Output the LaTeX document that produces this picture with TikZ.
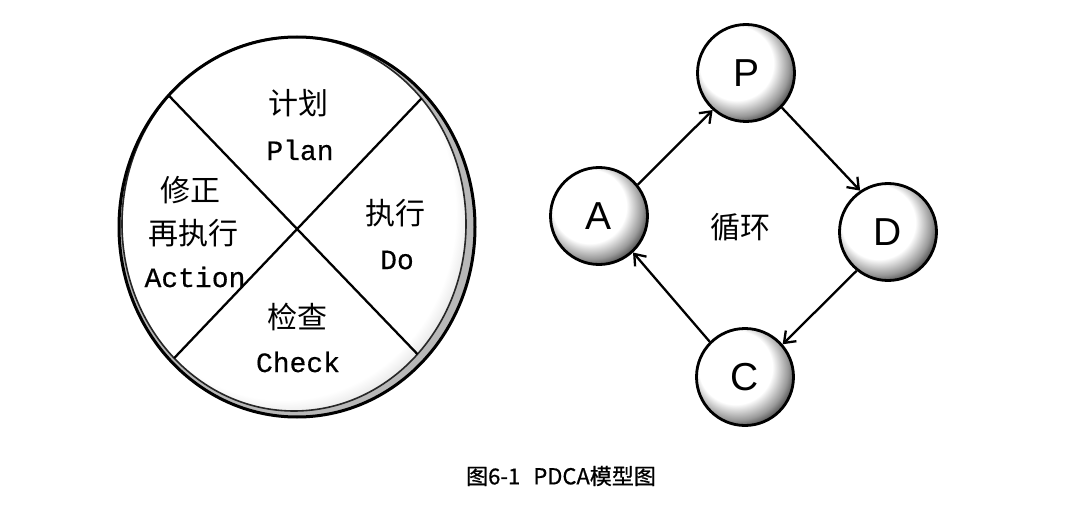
\documentclass[tikz,border=0pt]{standalone}
\usepackage{fontspec}
\setmainfont{Liberation Sans}
\newfontfamily\cjk{Noto Sans CJK SC}
\newfontfamily\capfont[FakeBold=0.6]{Noto Sans CJK SC}
\newfontfamily\monofnt[FakeBold=0.5]{Liberation Mono}
\usetikzlibrary{arrows.meta}

\pgfdeclareradialshading{sphereshade}{\pgfpoint{-8bp}{8bp}}{color(0bp)=(white); color(19bp)=(white); color(26bp)=(black!40); color(31bp)=(black!82); color(50bp)=(black!82)}
\pgfdeclareradialshading{diskshade}{\pgfpoint{-3bp}{3bp}}{color(0bp)=(white); color(25bp)=(white); color(29bp)=(black!18); color(50bp)=(black!25)}

\tikzset{
  ballnode/.style={circle, draw, line width=2.8pt, minimum size=97pt, inner sep=0pt,
    shade, shading=sphereshade, font=\fontsize{39}{40}\selectfont},
  cjkbig/.style={font=\cjk\fontsize{30}{32}\selectfont, inner sep=0pt},
  monotext/.style={font=\monofnt\fontsize{28}{30}\selectfont, inner sep=0pt},
  arr/.style={line width=2.3pt, -{Straight Barb[length=10pt,width=15pt,line width=2.3pt]}},
  crossline/.style={line width=2.3pt},
}

\begin{document}
\begin{tikzpicture}[x=1pt,y=-1pt]
\useasboundingbox[fill=white] (0,0) rectangle (1080,516);

% ---- disk ----
\fill[black!28] (297,227) ellipse [x radius=178pt, y radius=190pt];
\shade[shading=diskshade] (294,224) ellipse [x radius=172pt, y radius=187pt];
\draw[line width=1.6pt, black!85] (294,224) ellipse [x radius=172pt, y radius=187pt];
\draw[line width=3pt] (297,227) ellipse [x radius=178pt, y radius=190pt];
\begin{scope}
  \clip (294,224) ellipse [x radius=172pt, y radius=187pt];
  \draw[crossline] (100,24) -- (500,440);
  \draw[crossline] (100,436) -- (500,16);
\end{scope}

\node[cjkbig]   (plancn) at (298,103) {计划};
\node[monotext] (planen) at (300,150) {Plan};
\node[cjkbig]   (actcn1) at (190,190) {修正};
\node[cjkbig]   (actcn2) at (193,233) {再执行};
\node[monotext] (acten)  at (195,277) {Action};
\node[cjkbig]   (docn)   at (395,213) {执行};
\node[monotext] (doen)   at (397,260) {Do};
\node[cjkbig]   (chkcn)  at (297,317) {检查};
\node[monotext] (chken)  at (298,362) {Check};

% ---- cycle ----
\node[ballnode] (P) at (746,73)  {P};
\node[ballnode] (A) at (599,216) {A};
\node[ballnode] (D) at (888,232) {D};
\node[ballnode] (C) at (745,377) {C};

\draw[arr] (A.39)  -- (P.228);
\draw[arr] (P.316) -- (D.124);
\draw[arr] (D.231) -- (C.41);
\draw[arr] (C.135) -- (A.313);

\node[cjkbig] (loop) at (740,227) {循环};

% ---- caption ----
\node[font=\capfont\fontsize{22}{24}\selectfont, inner sep=0pt] (cap) at (561,476) {图6-1\hspace{0.6em}PDCA模型图};
\end{tikzpicture}
\end{document}
